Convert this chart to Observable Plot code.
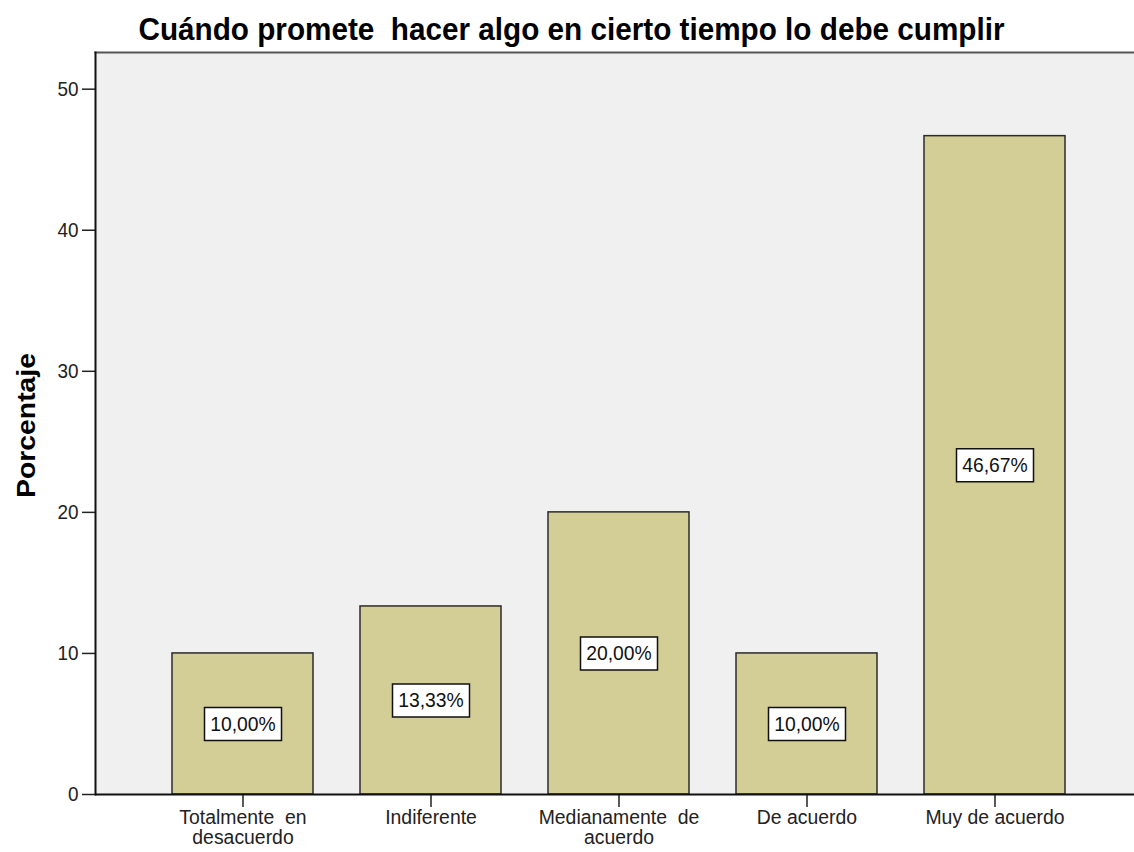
<!DOCTYPE html>
<html>
<head>
<meta charset="utf-8">
<script src="https://cdn.jsdelivr.net/npm/d3@7"></script>
<script src="https://cdn.jsdelivr.net/npm/@observablehq/plot@0.6"></script>
<style>
  html, body { margin: 0; padding: 0; background: #fff; }
  svg { display: block; }
</style>
</head>
<body>
<div id="chart"></div>
<script>
const categories = ["Totalmente  en desacuerdo", "Indiferente", "Medianamente de acuerdo", "De acuerdo", "Muy de acuerdo"];
const tickLabels = ["Totalmente  en\ndesacuerdo", "Indiferente", "Medianamente  de\nacuerdo", "De acuerdo", "Muy de acuerdo"];
const values = [10.00, 13.33, 20.00, 10.00, 46.67];
const yTicks = [0, 10, 20, 30, 40, 50];
const title = "Cuándo promete  hacer algo en cierto tiempo lo debe cumplir";
const yLabel = "Porcentaje";

const data = categories.map((c, i) => ({cat: c, value: values[i], label: values[i].toFixed(2).replace(".", ",") + "%"}));
const labelMap = new Map(categories.map((c, i) => [c, tickLabels[i]]));

const boxSymbol = {draw(ctx) { ctx.moveTo(-38.5, -16.5); ctx.lineTo(38.5, -16.5); ctx.lineTo(38.5, 16.5); ctx.lineTo(-38.5, 16.5); ctx.closePath(); }};

const chart = Plot.plot({
  width: 1134,
  height: 852,
  marginTop: 52,
  marginBottom: 58,
  marginLeft: 95,
  marginRight: 0,
  insetLeft: 27.75,
  insetRight: 19.25,
  style: {fontFamily: "'Liberation Sans', Arial, sans-serif", background: "#fff"},
  x: {domain: categories, padding: 0.25, label: null},
  y: {domain: [0, 52.6], label: null},
  marks: [
    Plot.frame({fill: "#f0f0f0", stroke: null}),
    Plot.frame({anchor: "top", stroke: "#555", strokeWidth: 2}),
    Plot.barY(data, {x: "cat", y: "value", fill: "#d3ce96", stroke: "#2b2b2b", strokeWidth: 1.5}),
    Plot.dot(data, {x: "cat", y: d => d.value / 2, symbol: boxSymbol, r: 5, fill: "#fff", stroke: "#111", strokeWidth: 1.5}),
    Plot.text(data, {x: "cat", y: d => d.value / 2, text: "label", fontSize: 21, fill: "#111", ariaLabel: () => "values"}),
    Plot.axisY({ticks: yTicks, tickSize: 13, tickPadding: 4, fontSize: 21, stroke: "#222", strokeWidth: 1.5, label: null, color: "#222"}),
    Plot.axisX({tickSize: 13, tickPadding: 2, fontSize: 20, strokeWidth: 1.5, stroke: "#222", color: "#222", tickFormat: d => labelMap.get(d), label: null, lineHeight: 1.02}),
    Plot.frame({anchor: "left", stroke: "#111", strokeWidth: 2}),
    Plot.ruleY([0], {stroke: "#111", strokeWidth: 2}),
    Plot.text([title], {frameAnchor: "top", textAnchor: "middle", dx: -43.5, dy: -35, fontSize: 32, fontWeight: "bold", fill: "#000", ariaLabel: () => "title"}),
    Plot.text([yLabel], {frameAnchor: "left", textAnchor: "middle", dx: -69, dy: 2, rotate: -90, fontSize: 25, fontWeight: "bold", fill: "#000", ariaLabel: () => "ylabel"})
  ]
});
document.getElementById("chart").appendChild(chart);

// The reference is rendered with narrow glyphs: compress text horizontally.
function squeeze(selector, k, fixed) {
  chart.querySelectorAll(selector).forEach(t => {
    const parts = t.querySelectorAll("tspan").length ? t.querySelectorAll("tspan") : [t];
    parts.forEach(p => {
      const len = fixed != null ? fixed : p.getComputedTextLength() * k;
      p.setAttribute("textLength", len);
      p.setAttribute("lengthAdjust", "spacingAndGlyphs");
    });
  });
}
squeeze('g[aria-label="x-axis tick label"] text', 0.97);
squeeze('g[aria-label="y-axis tick label"] text', 0.9);
squeeze('text[aria-label="values"]', 0.92);
squeeze('text[aria-label="title"]', 1, 866);
squeeze('text[aria-label="ylabel"]', 1, 145);
</script>
</body>
</html>
